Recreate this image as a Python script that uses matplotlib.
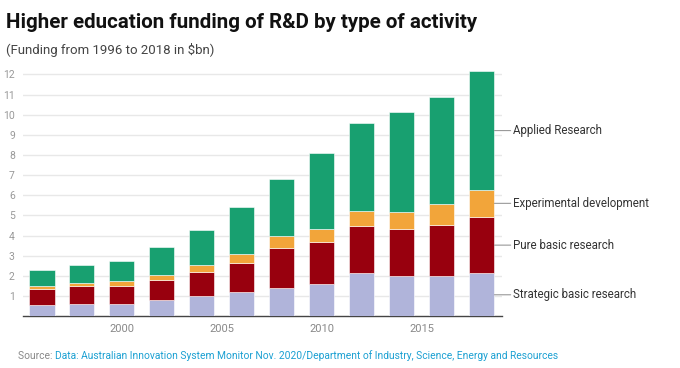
import matplotlib.pyplot as plt
import numpy as np

plt.rcParams['font.family'] = ['Roboto', 'DejaVu Sans']

# -- Data (in $bn) --
years = [1996, 1998, 2000, 2002, 2004, 2006, 2008, 2010, 2012, 2014, 2016, 2018]
strategic = [0.55, 0.61, 0.61, 0.78, 0.98, 1.19, 1.41, 1.60, 2.12, 1.97, 1.97, 2.12]
pure = [0.81, 0.90, 0.90, 0.99, 1.20, 1.46, 1.96, 2.09, 2.35, 2.38, 2.55, 2.81]
experimental = [0.15, 0.14, 0.21, 0.25, 0.37, 0.41, 0.62, 0.66, 0.76, 0.83, 1.07, 1.34]
applied = [0.77, 0.90, 1.03, 1.39, 1.75, 2.38, 2.84, 3.77, 4.35, 4.96, 5.28, 5.89]

series = ["Strategic basic research", "Pure basic research",
          "Experimental development", "Applied Research"]
colors = ["#b0b4da", "#98000e", "#f2a53a", "#18a070"]
xticks = [2000, 2005, 2010, 2015]

fig = plt.figure(figsize=(6.8, 3.68), dpi=100)
ax = fig.add_axes([0.034, 0.141, 0.704, 0.673])

bottom = np.zeros(len(years))
for name, vals, col in zip(series, [strategic, pure, experimental, applied], colors):
    vals = np.array(vals)
    ax.bar(years, vals, bottom=bottom, width=1.28, color=col,
           edgecolor="white", linewidth=0.4, zorder=3)
    # label on the right, at the middle of the last bar's segment
    mid = bottom[-1] + vals[-1] / 2
    ax.annotate(name, xy=(years[-1] + 0.65, mid), xytext=(years[-1] + 1.6, mid),
                va="center", ha="left", fontsize=8.3, color="#333333",
                annotation_clip=False,
                arrowprops=dict(arrowstyle="-", color="#999999", lw=0.8,
                                shrinkA=0, shrinkB=0))
    bottom += vals

ax.set_xlim(1995.07, 2019.02)
ax.set_ylim(0, 12.3)
ax.set_yticks(range(1, 13))
ax.set_xticks(xticks)
ax.yaxis.grid(True, color="#e8e8e8", lw=1, zorder=0)
for s in ["top", "right", "left"]:
    ax.spines[s].set_visible(False)
ax.spines["bottom"].set_color("#444444")
ax.spines["bottom"].set_linewidth(1)
ax.tick_params(axis="y", length=0, labelsize=7.5, labelcolor="#999999", pad=6)
ax.tick_params(axis="x", length=0, labelsize=8, labelcolor="#888888", pad=6)

fig.text(0.009, 0.923, "Higher education funding of R&D by type of activity",
         fontsize=14.8, fontweight="bold", color="#111111", va="baseline")
fig.text(0.009, 0.852, "(Funding from 1996 to 2018 in $bn)",
         fontsize=9.5, color="#444444", va="baseline")
t = fig.text(0.026, 0.025, "Source: ", fontsize=7.4, color="#888888", va="baseline")
fig.canvas.draw()
bb = t.get_window_extent()
fig.text(bb.x1 / fig.bbox.width, 0.025,
         "Data: Australian Innovation System Monitor Nov. 2020/Department of Industry, Science, Energy and Resources",
         fontsize=7.4, color="#1ba0d2", va="baseline")

fig.savefig("out.png", dpi=100)
